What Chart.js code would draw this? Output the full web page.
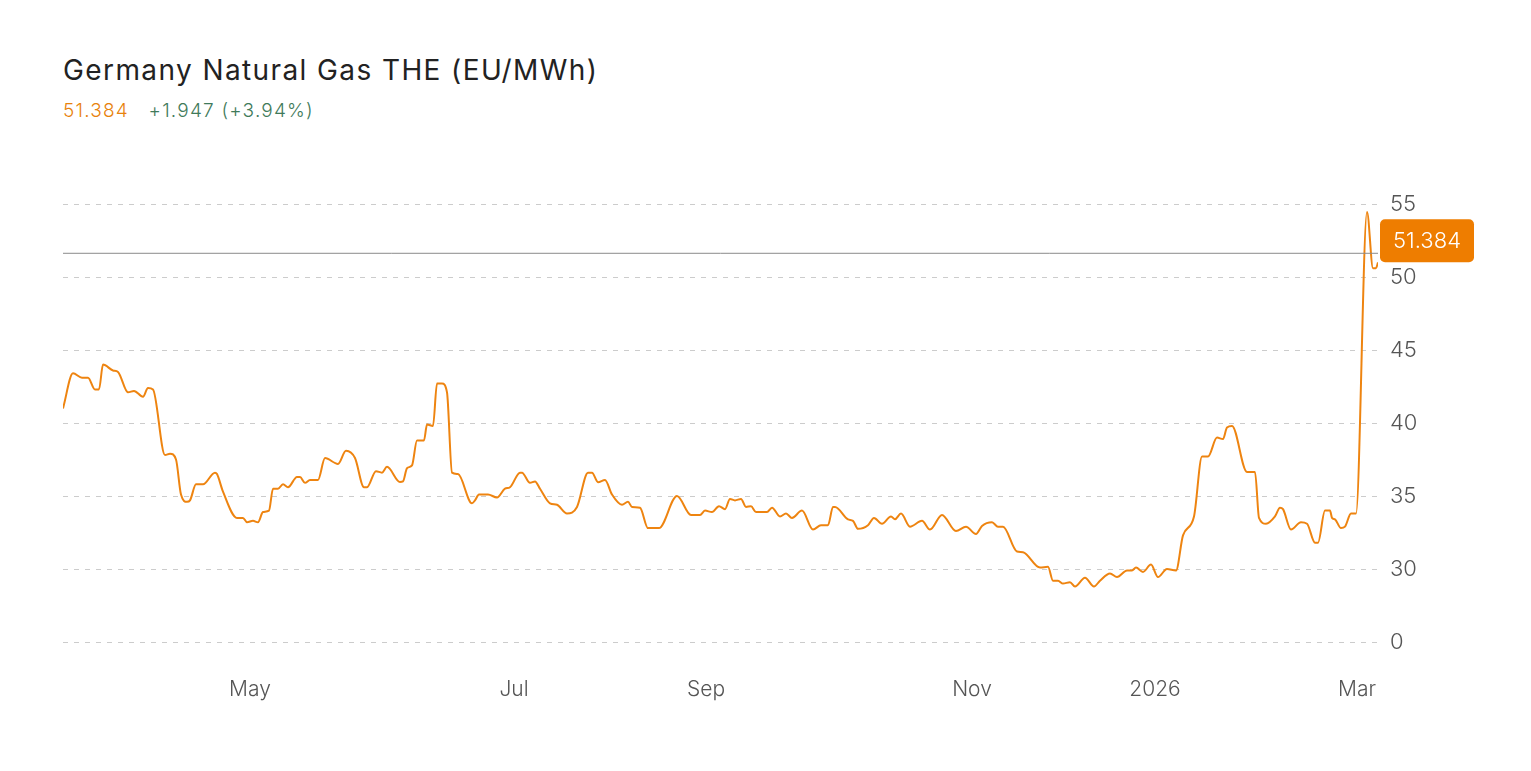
<!DOCTYPE html>
<html><head><meta charset="utf-8">
<script src="https://cdn.jsdelivr.net/npm/chart.js@4"></script>
<style>
html,body{margin:0;padding:0;background:#fff;overflow:hidden;font-family:Inter,"Noto Sans",sans-serif}
#t{position:absolute;left:63px;top:53px;font-size:28px;color:#222;font-weight:400;letter-spacing:1.4px}
#s{position:absolute;left:63px;top:99px;font-size:19px;font-weight:300;letter-spacing:1.2px}
#wrap{position:absolute;left:0;top:0;width:1531px;height:771px}
</style></head><body>
<div id="t">Germany Natural Gas THE (EU/MWh)</div>
<div id="s"><span style="color:#e8820c">51.384</span>&nbsp;&nbsp;&nbsp;<span style="color:#3f7a5a">+1.947 (+3.94%)</span></div>
<div id="wrap"><canvas id="c"></canvas></div>
<script>
// session offsets (t) and prices
const sessions=[0,10,19,25,32,36,40,50,55,65,71,80,85,90,102,107,113,118,124,127,133,140,152,154,160,174,180,184,190,195,200,206,210,215,220,225,234,237,242,247,255,262,275,283,292,301,304,313,319,324,337,340,344,349,354,361,364,370,374,379,384,389,395,409,412,416,425,434,442,447,457,459,467,472,477,487,494,504,514,525,529,535,542,549,559,565,569,577,585,596,614,628,637,642,649,656,662,667,672,678,683,688,693,704,709,717,723,729,739,750,758,765,770,772,785,790,795,805,811,819,828,832,838,847,859,867,879,893,903,913,919,929,935,940,954,960,977,985,990,995,1000,1007,1012,1022,1031,1037,1047,1054,1064,1069,1073,1080,1088,1095,1104,1113,1120,1131,1139,1145,1154,1160,1164,1169,1184,1192,1196,1203,1212,1217,1220,1228,1238,1244,1252,1255,1262,1267,1269,1272,1278,1282,1288,1293,1304,1310,1313,1315];
const prices=[41.0,43.4,43.1,43.1,42.3,42.3,44.0,43.6,43.5,42.1,42.2,41.8,42.4,42.3,37.8,37.9,37.5,35.1,34.6,34.7,35.8,35.8,36.6,36.5,35.3,33.5,33.5,33.2,33.3,33.2,33.9,34.0,35.5,35.5,35.8,35.6,36.3,36.3,35.9,36.1,36.1,37.6,37.2,38.1,37.6,35.6,35.6,36.7,36.6,37.0,35.96,36.0,36.9,37.1,38.8,38.8,39.9,39.8,42.7,42.7,42.1,36.6,36.5,34.5,34.7,35.1,35.1,34.9,35.5,35.6,36.6,36.6,35.9,36.0,35.5,34.5,34.4,33.8,34.25,36.6,36.6,35.95,36.1,35.1,34.4,34.6,34.25,34.2,32.8,32.8,35.0,33.7,33.7,34.0,33.9,34.3,34.1,34.8,34.7,34.8,34.25,34.3,33.9,33.9,34.2,33.6,33.8,33.5,34.0,32.7,33.0,33.0,34.25,34.25,33.4,33.3,32.75,33.0,33.5,33.1,33.6,33.4,33.8,32.9,33.3,32.7,33.7,32.6,32.9,32.4,32.95,33.2,32.9,32.9,31.2,31.15,30.1,30.15,29.2,29.2,29.0,29.1,28.8,29.4,28.8,29.2,29.7,29.45,29.9,29.9,30.1,29.8,30.3,29.45,30.0,29.9,32.3,33.6,37.7,37.7,39.0,38.9,39.7,39.8,36.65,36.65,33.5,33.1,33.6,34.2,34.1,32.7,33.2,33.1,31.8,31.8,34.0,34.0,33.5,33.4,32.8,32.9,33.8,33.8,54.45,50.6,50.6,51.0];
const monthTicks=[187,451,643,909,1092,1294];
const monthLabels=['May','Jul','Sep','Nov','2026','Mar'];
const yTicks=[25,30,35,40,45,50,55];
const yLabels=['0','30','35','40','45','50','55'];
const last=51.384;

const pts=sessions.map((s,i)=>({x:s,y:prices[i]}));
const tag={id:'tag',afterDatasetsDraw(ch){
  const {ctx,chartArea:a,scales:{y}}=ch;const py=y.getPixelForValue(last)-4;
  ctx.save();ctx.strokeStyle='#8a8a8a';ctx.lineWidth=1;ctx.beginPath();ctx.moveTo(a.left,py+0.5);ctx.lineTo(a.right,py+0.5);ctx.stroke();
  const x0=a.right+2,w=94,h=43,cy=py-12;ctx.fillStyle='#ee7d00';ctx.beginPath();ctx.roundRect(x0,cy-h/2,w,h,5);ctx.fill();
  ctx.fillStyle='#fff';ctx.font='300 22px Inter';ctx.textAlign='center';ctx.textBaseline='middle';ctx.fillText(last.toFixed(3),x0+w/2,cy+1);ctx.restore();}};
new Chart(document.getElementById('c'),{type:'line',
 data:{datasets:[{data:pts,borderColor:'#ee8410',borderWidth:2,pointRadius:0,tension:0.3,cubicInterpolationMode:'monotone'}]},
 options:{responsive:true,maintainAspectRatio:false,animation:false,
  layout:{padding:{top:204,left:63,right:0,bottom:0}},
  plugins:{legend:{display:false},tooltip:{enabled:false}},
  scales:{
   x:{type:'linear',min:0,max:1315,grid:{display:false},border:{display:false},
     afterBuildTicks(s){s.ticks=monthTicks.map(v=>({value:v}));},
     afterFit(s){s.height=129;},
     ticks:{autoSkip:false,maxRotation:0,padding:27,color:'#555',font:{size:21,family:'Inter',weight:300},callback:(v)=>monthLabels[monthTicks.indexOf(v)]}},
   y:{position:'right',min:25,max:55,
     afterBuildTicks(s){s.ticks=yTicks.map(v=>({value:v}));},
     afterFit(s){s.width=153;},
     grid:{color:'#cccccc',lineWidth:1,drawTicks:false,tickLength:0},
     border:{display:false,dash:[5,6]},
     ticks:{padding:12,color:'#555',font:{size:22,family:'Inter',weight:300},callback:(v)=>yLabels[yTicks.indexOf(v)]}}
  }},plugins:[tag]});
</script>
</body></html>
